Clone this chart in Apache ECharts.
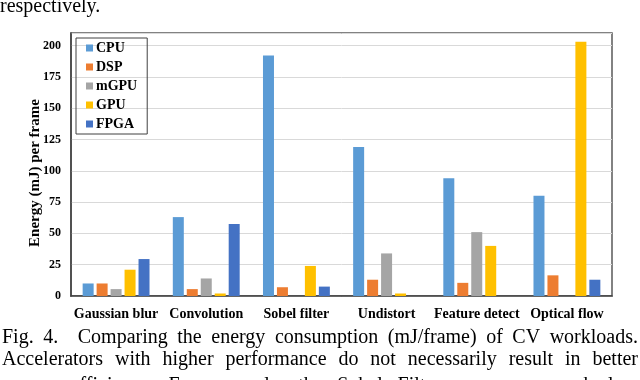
<!DOCTYPE html>
<html>
<head>
<meta charset="utf-8">
<script src="https://cdn.jsdelivr.net/npm/echarts@6/dist/echarts.min.js"></script>
<style>
  html, body { margin: 0; padding: 0; background: #fff; }
  #chart { width: 640px; height: 380px; }
</style>
</head>
<body>
<div id="chart"></div>
<script>
const workloads = ['Gaussian blur', 'Convolution', 'Sobel filter', 'Undistort', 'Feature detect', 'Optical flow'];
const cpu  = [10, 63, 192, 119, 94, 80];
const dsp  = [10, 5.5, 7, 13, 10.5, 16.5];
const mgpu = [5.5, 14, 0, 34, 51, 0];
const gpu  = [21, 2, 24, 2, 40, 203];
const fpga = [29.5, 57.5, 7.5, 0, 0, 13];
const seriesNames = ['CPU', 'DSP', 'mGPU', 'GPU', 'FPGA'];
const colors = ['#5b9bd5', '#ed7d31', '#a5a5a5', '#ffc000', '#4472c4'];

const captionTop = 'respectively.';
const captionLines = [
    'Fig. 4.   Comparing the energy consumption (mJ/frame) of CV workloads.',
    'Accelerators with higher performance do not necessarily result in better',
    'energy efficiency. For example, the Sobel Filter consumes much less'
];
const captionBaselines = [344, 366, 392];

const serif = '"Liberation Serif", "DejaVu Serif", serif';
const capFont = '20px ' + serif;
const ctx = document.createElement('canvas').getContext('2d');
ctx.font = capFont;

// lay out a line of words so it fills the width, like the paper's justified text
function justify(line, baseline) {
    const parts = line.split(/(\s+)/).filter(s => s.length);
    const words = [], extra = [];
    parts.forEach(p => {
        if (/^\s+$/.test(p)) { extra[words.length - 1] = p.length > 1 ? 10 : 0; }
        else words.push(p);
    });
    const left = 2, right = 638;
    const widths = words.map(w => ctx.measureText(w).width);
    const used = widths.reduce((a, b) => a + b, 0) + extra.reduce((a, b) => a + (b || 0), 0);
    const gap = (right - left - used) / (words.length - 1);
    let x = left;
    return words.map((w, i) => {
        const el = {
            type: 'text', left: x, top: baseline - 16,
            style: { text: w, font: capFont, fill: '#000' }
        };
        x += widths[i] + gap + (extra[i] || 0);
        return el;
    });
}

const chart = echarts.init(document.getElementById('chart'));
const graphics = [
    { type: 'text', left: 0, top: -3, style: { text: captionTop, font: capFont, fill: '#000' } },
    {
        // y axis title, reads bottom to top
        type: 'text', x: 35, y: 173, rotation: Math.PI / 2,
        style: {
            text: 'Energy (mJ) per frame', font: 'bold 15px ' + serif, fill: '#000',
            align: 'center', verticalAlign: 'middle'
        }
    }
];
captionLines.forEach((l, i) => { graphics.push(...justify(l, captionBaselines[i])); });

const option = {
    animation: false,
    textStyle: { fontFamily: serif },
    grid: {
        left: 71, right: 28, top: 33, bottom: 84,
        show: true, borderColor: '#595959', borderWidth: 1.5
    },
    legend: {
        orient: 'vertical',
        left: 76, top: 38,
        data: seriesNames,
        icon: 'rect',
        itemWidth: 7, itemHeight: 7,
        itemGap: 5,
        padding: [3, 10, 3, 10],
        borderColor: '#404040', borderWidth: 1,
        textStyle: { fontFamily: serif, fontWeight: 'bold', fontSize: 14, lineHeight: 14, color: '#000', padding: [0, 0, 0, -2] }
    },
    xAxis: {
        type: 'category',
        data: workloads,
        axisLine: { lineStyle: { color: '#404040', width: 1.5 } },
        axisTick: { show: false },
        axisLabel: { fontFamily: serif, fontWeight: 'bold', fontSize: 14, color: '#000', margin: 11, interval: 0 }
    },
    yAxis: {
        type: 'value',
        min: 0, max: 210, interval: 25,
        axisLine: { show: true, lineStyle: { color: '#404040', width: 1.5 } },
        axisTick: { show: false },
        axisLabel: {
            fontFamily: serif, fontWeight: 'bold', fontSize: 12, color: '#000', margin: 10,
            formatter: v => (v > 200 ? '' : v)
        },
        splitLine: { lineStyle: { color: '#d9d9d9', width: 1 } }
    },
    series: [cpu, dsp, mgpu, gpu, fpga].map((d, i) => ({
        name: seriesNames[i],
        type: 'bar',
        data: d,
        barWidth: 11,
        barGap: '27%',
        itemStyle: { color: colors[i] }
    })),
    graphic: graphics
};
chart.setOption(option);
</script>
</body>
</html>
